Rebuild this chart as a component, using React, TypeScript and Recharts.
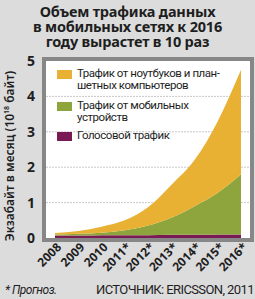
import { Area, AreaChart, CartesianGrid, XAxis, YAxis } from 'recharts';

const years = ['2008', '2009', '2010', '2011*', '2012*', '2013*', '2014*', '2015*', '2016*'];
const voiceTraffic = [0.07, 0.07, 0.08, 0.08, 0.08, 0.09, 0.09, 0.1, 0.1];
const mobileTraffic = [0.03, 0.05, 0.07, 0.14, 0.27, 0.48, 0.81, 1.18, 1.7];
const laptopTraffic = [0.04, 0.08, 0.17, 0.28, 0.52, 0.93, 1.3, 2.02, 2.95];
const yTicks = [0, 1, 2, 3, 4, 5];

const legendItems = [
  { color: '#e8b134', lines: ['Трафик от ноутбуков и план-', 'шетных компьютеров'], top: 70 },
  { color: '#8ea53d', lines: ['Трафик от мобильных', 'устройств'], top: 102 },
  { color: '#7a1a55', lines: ['Голосовой трафик'], top: 132 },
];

const data = years.map((year, i) => ({
  year,
  voice: voiceTraffic[i],
  mobile: mobileTraffic[i],
  laptop: laptopTraffic[i],
}));

const font = '"Noto Sans", sans-serif';
const narrow = '"Liberation Sans Narrow", "Roboto", sans-serif';

function YTick({ x, y, payload }: any) {
  return (
    <text x={x - 3} y={y + 5} textAnchor="end" fontSize={14} fontWeight={700} fontFamily={font} fill="#1e1e1e">
      {payload.value}
    </text>
  );
}

function XTick({ x, y, payload }: any) {
  const ax = x + 7;
  const ay = y + 2;
  return (
    <text
      x={ax}
      y={ay}
      textAnchor="end"
      fontSize={12}
      fontWeight={700}
      fontFamily={font}
      fill="#1e1e1e"
      transform={`rotate(-45, ${ax}, ${ay})`}
    >
      {payload.value}
    </text>
  );
}

export default function App() {
  return (
    <div style={{ position: 'absolute', left: 0, top: 0, width: 255, height: 299, background: '#dcdcdc', overflow: 'hidden' }}>
      <div
        style={{
          position: 'absolute',
          top: 4,
          left: 0,
          width: 255,
          textAlign: 'center',
          fontFamily: font,
          fontWeight: 700,
          fontSize: 14.5,
          lineHeight: '15px',
          color: '#1e1e1e',
          letterSpacing: -0.2,
        }}
      >
        Объем трафика данных
        <br />в мобильных сетях к 2016
        <br />году вырастет в 10 раз
      </div>
      <div
        style={{
          position: 'absolute',
          left: 42,
          top: 57,
          width: 204,
          height: 177,
          border: '4px solid #878787',
          background: '#ffffff',
        }}
      />
      <div style={{ position: 'absolute', left: 0, top: 0 }}>
        <AreaChart width={255} height={299} data={data} margin={{ top: 61, right: 5, left: 0, bottom: 21 }}>
          <CartesianGrid vertical={false} horizontalValues={[1, 2, 3, 4]} stroke="#c8c8c8" strokeDasharray="2 1" />
          <XAxis
            dataKey="year"
            height={40}
            interval={0}
            axisLine={false}
            tickLine={false}
            padding={{ left: 9, right: 9 }}
            tick={<XTick />}
          />
          <YAxis width={46} domain={[0, 5]} ticks={yTicks} axisLine={false} tickLine={false} tick={<YTick />} />
          <Area type="monotone" dataKey="voice" stackId="1" stroke="none" fill="#7a1a55" fillOpacity={1} isAnimationActive={false} />
          <Area type="monotone" dataKey="mobile" stackId="1" stroke="none" fill="#8ea53d" fillOpacity={1} isAnimationActive={false} />
          <Area type="monotone" dataKey="laptop" stackId="1" stroke="none" fill="#e8b134" fillOpacity={1} isAnimationActive={false} />
        </AreaChart>
      </div>
      {legendItems.map((item) => (
        <div key={item.color} style={{ position: 'absolute', left: 57, top: item.top }}>
          <div style={{ position: 'absolute', left: 0, top: 0, width: 15, height: 9, background: item.color }} />
          <div
            style={{
              position: 'absolute',
              left: 20,
              top: -3,
              whiteSpace: 'nowrap',
              fontFamily: narrow,
              fontSize: 11.5,
              letterSpacing: -0.45,
              lineHeight: '12px',
              color: '#1e1e1e',
            }}
          >
            {item.lines.map((l) => (
              <div key={l}>{l}</div>
            ))}
          </div>
        </div>
      ))}
      <div
        style={{
          position: 'absolute',
          left: 9,
          top: 156,
          transform: 'translate(-50%, -50%) rotate(-90deg)',
          whiteSpace: 'nowrap',
          fontFamily: font,
          fontWeight: 600,
          fontSize: 12,
          color: '#1e1e1e',
        }}
      >
        Экзабайт в месяц (10<sup style={{ fontSize: 7 }}>18</sup> байт)
      </div>
      <div
        style={{
          position: 'absolute',
          left: 5,
          top: 283,
          fontFamily: narrow,
          fontStyle: 'italic',
          fontSize: 12,
          letterSpacing: -0.5,
          color: '#1e1e1e',
        }}
      >
        * Прогноз.
      </div>
      <div
        style={{
          position: 'absolute',
          left: 96,
          top: 282,
          fontFamily: narrow,
          fontSize: 13,
          letterSpacing: -0.6,
          whiteSpace: 'nowrap',
          color: '#1e1e1e',
        }}
      >
        ИСТОЧНИК: ERICSSON, 2011
      </div>
    </div>
  );
}
